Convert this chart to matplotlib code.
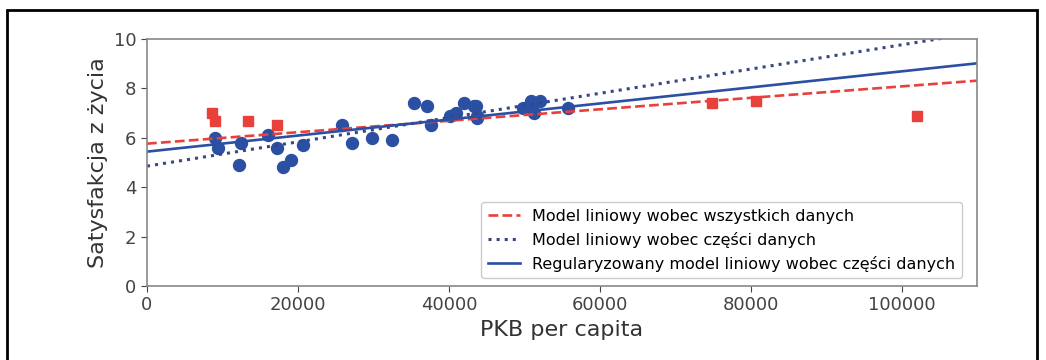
import numpy as np
import matplotlib
matplotlib.use("Agg")
import matplotlib.pyplot as plt
from matplotlib.patches import Rectangle

# Sample data (blue circles)
gdp_sample = [9054.914, 9437.372, 12239.894, 12495.334, 15991.736, 17288.083, 18064.288,
              19121.592, 20732.482, 25864.721, 27195.197, 29866.581, 32485.545, 35343.336,
              37044.891, 37675.006, 40106.632, 40996.511, 41973.988, 43331.961, 43603.115,
              43724.031, 43770.688, 49866.266, 50854.583, 50961.865, 51350.744, 52114.165,
              55805.204]
sat_sample = [6.0, 5.6, 4.9, 5.8, 6.1, 5.6, 4.8, 5.1, 5.7, 6.5, 5.8, 6.0, 5.9, 7.4,
              7.3, 6.5, 6.9, 7.0, 7.4, 7.3, 7.3, 6.9, 6.8, 7.2, 7.5, 7.3, 7.0, 7.5, 7.2]

# Missing data (red squares)
gdp_missing = [8669.998, 9009.280, 13340.905, 17256.918, 74822.106, 80675.308, 101994.093]
sat_missing = [7.0, 6.7, 6.7, 6.5, 7.4, 7.5, 6.9]

# Model parameters (intercept, slope)
full_model = (5.763029861307918, 2.3177909746831936e-05)
partial_model = (4.853052800266436, 4.911544589158484e-05)
ridge_model = (5.44, 3.25e-05)

labels = ["Model liniowy wobec wszystkich danych",
          "Model liniowy wobec części danych",
          "Regularyzowany model liniowy wobec części danych"]

fig = plt.figure(figsize=(10.46, 3.60), dpi=100)
ax = fig.add_axes([147/1046, 1-286/360, (977-147)/1046, (286-39)/360])

blue = "#2b4fa3"
red = "#e8413c"
navy = "#3a4585"

ax.plot(gdp_sample, sat_sample, "o", color=blue, markersize=8.6)
ax.plot(gdp_missing, sat_missing, "s", color=red, markersize=7.8)

X = np.linspace(0, 110000, 1000)
ax.plot(X, full_model[0] + full_model[1]*X, "--", color=red, linewidth=1.9, label=labels[0])
ax.plot(X, partial_model[0] + partial_model[1]*X, ":", color=navy, linewidth=2.2, label=labels[1])
ax.plot(X, ridge_model[0] + ridge_model[1]*X, "-", color=blue, linewidth=1.9, label=labels[2])

ax.set_xlim(0, 110000)
ax.set_ylim(0, 10)
ax.set_xlabel("PKB per capita", fontsize=16, color="#333333")
ax.set_ylabel("Satysfakcja z życia", fontsize=16, color="#333333")
ax.tick_params(labelsize=13, colors="#444444", length=4)
for s in ax.spines.values():
    s.set_color("#888888")
    s.set_linewidth(1.2)

leg = ax.legend(loc="lower right", bbox_to_anchor=(1 - 7/830, 0), fontsize=11.5,
                framealpha=1, edgecolor="#cccccc")

fig.patches.append(Rectangle((7/1046, -0.1), (1037-7)/1046, 1.1 - 10/360,
                             transform=fig.transFigure, fill=False,
                             edgecolor="black", linewidth=2))

fig.savefig("out.png", dpi=100)
